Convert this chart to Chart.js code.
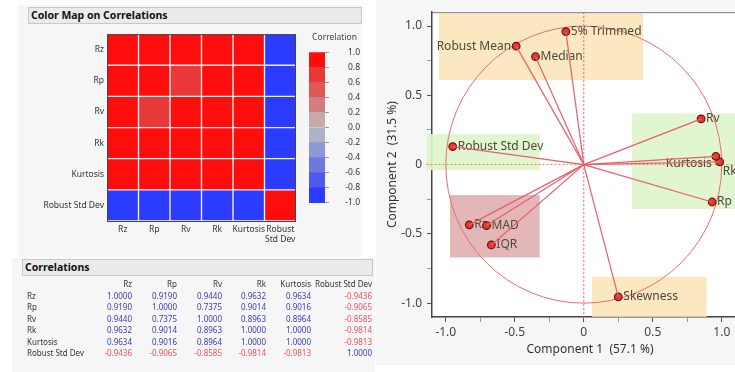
<!DOCTYPE html>
<html>
<head>
<meta charset="utf-8">
<script src="https://cdn.jsdelivr.net/npm/chart.js@4/dist/chart.umd.min.js"></script>
<style>
  body { margin:0; width:735px; height:372px; overflow:hidden; background:#fff; position:relative; font-family:"Noto Sans", sans-serif; }
  .panel { position:absolute; background:#f6f6f6; }
  .hdr { position:absolute; box-sizing:border-box; background:#ebebeb; border:1px solid #c8c8c8; font-weight:bold; font-size:10.5px; line-height:14px; padding-left:2px; color:#111; }
  .box { position:absolute; }
  #tbl span { position:absolute; font-size:8px; line-height:11px; white-space:nowrap; }
</style>
</head>
<body>
<div class="panel" style="left:18px;top:5px;width:344px;height:252px"></div>
<div class="panel" style="left:12px;top:258px;width:363px;height:114px"></div>
<div class="panel" style="left:376px;top:0;width:359px;height:365px"></div>
<div class="hdr" style="left:28px;top:7px;width:334px;height:17px">Color Map on Correlations</div>
<div class="hdr" style="left:22px;top:259px;width:351px;height:17px">Correlations</div>

<div class="box" style="left:30px;top:26px;width:272px;height:226px"><canvas id="heat"></canvas></div>
<div class="box" style="left:300px;top:28px;width:60px;height:182px"><canvas id="scale"></canvas></div>
<div class="box" style="left:376px;top:0;width:384px;height:365px"><canvas id="biplot"></canvas></div>
<div id="tbl" style="position:absolute;left:0;top:0;width:735px;height:372px"></div>

<script>
// correlation matrix
const vars = ['Rz', 'Rp', 'Rv', 'Rk', 'Kurtosis', 'Robust Std Dev'];
const colLabels = ['Rz', 'Rp', 'Rv', 'Rk', 'Kurtosis', ['Robust', 'Std Dev']];
const corrRz   = [ 1.0000,  0.9190,  0.9440,  0.9632,  0.9634, -0.9436];
const corrRp   = [ 0.9190,  1.0000,  0.7375,  0.9014,  0.9016, -0.9065];
const corrRv   = [ 0.9440,  0.7375,  1.0000,  0.8963,  0.8964, -0.8585];
const corrRk   = [ 0.9632,  0.9014,  0.8963,  1.0000,  1.0000, -0.9814];
const corrKurt = [ 0.9634,  0.9016,  0.8964,  1.0000,  1.0000, -0.9813];
const corrRsd  = [-0.9436, -0.9065, -0.8585, -0.9814, -0.9813,  1.0000];
const corr = [corrRz, corrRp, corrRv, corrRk, corrKurt, corrRsd];

// colour legend
const legendEdges = [-1, -0.8, -0.6, -0.4, -0.2, 0, 0.2, 0.4, 0.6, 0.8, 1];
const legendTicks = [1, 0.8, 0.6, 0.4, 0.2, 0, -0.2, -0.4, -0.6, -0.8, -1];

// loadings plot
const loadNames = ['Rz', 'Rp', 'Rv', 'Rk', 'Kurtosis', 'Robust Std Dev', 'Robust Mean', '5% Trimmed', 'Median', 'MAD', 'IQR', 'Skewness'];
const loadX = [-0.83, 0.93, 0.85, 0.985, 0.957, -0.95, -0.49, -0.13, -0.35, -0.705, -0.67, 0.25];
const loadY = [-0.435, -0.27, 0.33, 0.02, 0.06, 0.13, 0.855, 0.96, 0.78, -0.44, -0.58, -0.955];
const biTicks = [-1, -0.75, -0.5, -0.25, 0, 0.25, 0.5, 0.75, 1];
const groupNames = ['location', 'spread', 'peaks', 'dispersion', 'shape'];
const groupX = [[-1.05, 0.43], [-1.14, -0.32], [0.35, 1.25], [-0.97, -0.32], [0.06, 0.89]];
const groupY = [[0.61, 1.09], [-0.04, 0.22], [-0.32, 0.37], [-0.67, -0.22], [-1.1, -0.81]];

Chart.defaults.font.family = '"Noto Sans", sans-serif';
Chart.defaults.animation = false;

const bandColors = ['#2b3bff', '#4f58ee', '#6f77e0', '#8f97d5', '#afb1c8', '#c8a9a9', '#d27e7e', '#de5858', '#e93838', '#ff0c0c'];
function colorFor(v) {
  let i = legendEdges.findIndex((e, k) => k > 0 && v <= e) - 1;
  if (i < 0) i = 0;
  return bandColors[i];
}

const frame = {
  id: 'frame',
  afterDraw(chart) {
    const {ctx, chartArea: a} = chart;
    ctx.save();
    ctx.strokeStyle = '#444';
    ctx.lineWidth = 1;
    ctx.strokeRect(a.left + 0.5, a.top + 0.5, a.width - 1, a.height);
    ctx.restore();
  }
};

new Chart(document.getElementById('heat'), {
  type: 'bar',
  data: {
    labels: colLabels,
    datasets: vars.map((name, i) => ({
      label: name,
      data: corr[i].map(() => [i - 0.5, i + 0.5]),
      backgroundColor: corr[i].map(colorFor),
      borderColor: 'rgba(255,255,255,0.07)',
      borderWidth: 1,
      borderSkipped: false,
      barPercentage: 1,
      categoryPercentage: 1,
      grouped: false
    }))
  },
  options: {
    responsive: true,
    maintainAspectRatio: false,
    layout: { padding: { top: 6, right: 6 } },
    plugins: { legend: { display: false }, tooltip: { enabled: false } },
    scales: {
      x: {
        grid: { display: false, drawTicks: false },
        border: { display: false },
        ticks: { color: '#333', font: { size: 8.5 }, padding: 3, maxRotation: 0, autoSkip: false },
        afterFit: s => { s.height = 31; }
      },
      y: {
        type: 'linear', reverse: true, min: -0.5, max: 5.5,
        afterBuildTicks: s => { s.ticks = vars.map((n, i) => ({ value: i })); },
        grid: { display: false, drawTicks: false },
        border: { display: false },
        ticks: { color: '#333', font: { size: 8.5 }, padding: 3, callback: v => vars[v] },
        afterFit: s => { s.width = 77; }
      }
    }
  },
  plugins: [frame]
});

new Chart(document.getElementById('scale'), {
  type: 'bar',
  data: {
    labels: [''],
    datasets: bandColors.map((c, i) => ({
      data: [[legendEdges[i], legendEdges[i + 1]]],
      backgroundColor: c,
      borderWidth: 0,
      barPercentage: 1,
      categoryPercentage: 1,
      grouped: false
    }))
  },
  options: {
    responsive: true,
    maintainAspectRatio: false,
    layout: { padding: { left: 9, bottom: 6 } },
    plugins: {
      legend: { display: false }, tooltip: { enabled: false },
      title: { display: true, text: 'Correlation', color: '#444', font: { size: 8.5, weight: 'normal' }, padding: { top: 4, bottom: 10 } }
    },
    scales: {
      x: { display: false },
      y: {
        position: 'right', min: -1, max: 1,
        afterBuildTicks: s => { s.ticks = legendTicks.map(v => ({ value: v })); },
        grid: { drawOnChartArea: false, tickLength: 4, color: '#999' },
        border: { display: false },
        ticks: { color: '#333', font: { size: 8.5 }, padding: 2, crossAlign: 'far',
                 callback: v => (Math.abs(v) < 1e-9 ? 0 : v).toFixed(1) },
        afterFit: s => { s.width = 35; }
      }
    }
  }
});

// table
const tbl = document.getElementById('tbl');
const colRight = [132, 177, 222, 266, 311, 372];
function put(text, x, y, right, color) {
  const s = document.createElement('span');
  s.textContent = text;
  s.style.top = (y - 5.5) + 'px';
  if (right) s.style.right = (735 - x) + 'px'; else s.style.left = x + 'px';
  s.style.color = color;
  tbl.appendChild(s);
}
vars.forEach((n, j) => put(n, colRight[j], 283, true, '#333'));
vars.forEach((n, i) => {
  const y = 295 + i * 11.5;
  put(n, 27, y, false, '#333');
  corr[i].forEach((v, j) => put(v.toFixed(4), colRight[j], y, true, v < 0 ? '#f0505e' : '#3a3ab8'));
});

// loadings plot
const groupFill = { location: 'rgba(250,226,176,0.8)', spread: 'rgba(222,244,204,0.9)', peaks: 'rgba(222,244,204,0.9)',
                    dispersion: 'rgba(222,170,170,0.85)', shape: 'rgba(250,226,176,0.8)' };
const labelPlace = { 'Robust Mean': ['right', -5, 0], 'Kurtosis': ['right', -4, 7], 'Rk': ['left', 3, 10] };

const biplotDeco = {
  id: 'biplotDeco',
  beforeDraw(chart) {
    const {ctx, chartArea: a} = chart;
    ctx.save();
    ctx.fillStyle = '#fff';
    ctx.fillRect(a.left, a.top, a.width, a.height);
    ctx.restore();
  },
  beforeDatasetsDraw(chart) {
    const {ctx, chartArea: a, scales: {x, y}} = chart;
    ctx.save();
    groupNames.forEach((g, k) => {
      const x0 = x.getPixelForValue(groupX[k][0]), x1 = x.getPixelForValue(groupX[k][1]);
      const y0 = y.getPixelForValue(groupY[k][0]), y1 = y.getPixelForValue(groupY[k][1]);
      ctx.fillStyle = groupFill[g];
      ctx.fillRect(x0, y1, x1 - x0, y0 - y1);
    });
    const cx = x.getPixelForValue(0), cy = y.getPixelForValue(0);
    ctx.lineWidth = 1;
    ctx.setLineDash([2, 2]);
    ctx.strokeStyle = '#e8884a';
    ctx.beginPath(); ctx.moveTo(x.getPixelForValue(-1.14), cy); ctx.lineTo(a.right, cy); ctx.stroke();
    ctx.strokeStyle = '#e65a70';
    ctx.beginPath(); ctx.moveTo(cx, a.top); ctx.lineTo(cx, a.bottom); ctx.stroke();
    ctx.setLineDash([]);
    ctx.strokeStyle = '#e86c78';
    ctx.beginPath();
    ctx.ellipse(cx, cy, x.getPixelForValue(1) - cx, cy - y.getPixelForValue(1), 0, 0, 2 * Math.PI);
    ctx.stroke();
    ctx.font = '12px "Noto Sans", sans-serif';
    ctx.fillStyle = '#4c4a38';
    ctx.textBaseline = 'middle';
    loadNames.forEach((n, i) => {
      const p = labelPlace[n] || ['left', 5, 0];
      ctx.textAlign = p[0];
      ctx.fillText(n, x.getPixelForValue(loadX[i]) + p[1], y.getPixelForValue(loadY[i]) + p[2]);
    });
    ctx.restore();
  },
  afterDraw(chart) {
    const {ctx, chartArea: a} = chart;
    ctx.save();
    ctx.strokeStyle = '#777';
    ctx.lineWidth = 1;
    ctx.beginPath(); ctx.moveTo(a.left, a.top + 0.5); ctx.lineTo(a.right, a.top + 0.5); ctx.lineTo(a.right - 0.5, a.bottom); ctx.stroke();
    ctx.restore();
  }
};

const isMajor = v => Math.abs(v * 2 - Math.round(v * 2)) < 1e-9;
const fmt = v => (Math.abs(v) < 1e-9 ? '0' : v.toFixed(1));

new Chart(document.getElementById('biplot'), {
  type: 'scatter',
  data: {
    datasets: loadNames.map((n, i) => ({
      label: n,
      data: [{ x: 0, y: 0 }, { x: loadX[i], y: loadY[i] }],
      showLine: true,
      borderColor: '#e65f6c',
      borderWidth: 1.2,
      pointRadius: 0
    })).concat([{
      label: 'loadings',
      data: loadX.map((v, i) => ({ x: v, y: loadY[i] })),
      pointRadius: 3.8,
      backgroundColor: '#e23a30',
      borderColor: '#6e1210',
      borderWidth: 1.2
    }])
  },
  options: {
    responsive: true,
    maintainAspectRatio: false,
    layout: { padding: { top: 12, right: 12 } },
    plugins: { legend: { display: false }, tooltip: { enabled: false } },
    scales: {
      x: {
        min: -1.1, max: 1.19,
        afterBuildTicks: s => { s.ticks = biTicks.map(v => ({ value: v })); },
        grid: { drawOnChartArea: false, tickLength: 5, color: c => isMajor(c.tick.value) ? '#555' : '#999' },
        border: { color: '#444', width: 1.5 },
        ticks: { color: '#444', font: { size: 12 }, padding: 3, callback: v => isMajor(v) ? fmt(v) : '' },
        title: { display: true, text: 'Component 1  (57.1 %)', color: '#333', font: { size: 12 }, padding: { top: 0, bottom: 8 } },
        afterFit: s => { s.height = 48; }
      },
      y: {
        min: -1.1, max: 1.1,
        afterBuildTicks: s => { s.ticks = biTicks.map(v => ({ value: v })); },
        grid: { drawOnChartArea: false, tickLength: 5, color: c => isMajor(c.tick.value) ? '#555' : '#999' },
        border: { color: '#444', width: 1.5 },
        ticks: { color: '#444', font: { size: 12 }, padding: 5, callback: v => isMajor(v) ? fmt(v) : '' },
        title: { display: true, text: 'Component 2  (31.5 %)', color: '#333', font: { size: 12 }, padding: { top: 9, bottom: 0 } },
        afterFit: s => { s.width = 56; }
      }
    }
  },
  plugins: [biplotDeco]
});
</script>
</body>
</html>
